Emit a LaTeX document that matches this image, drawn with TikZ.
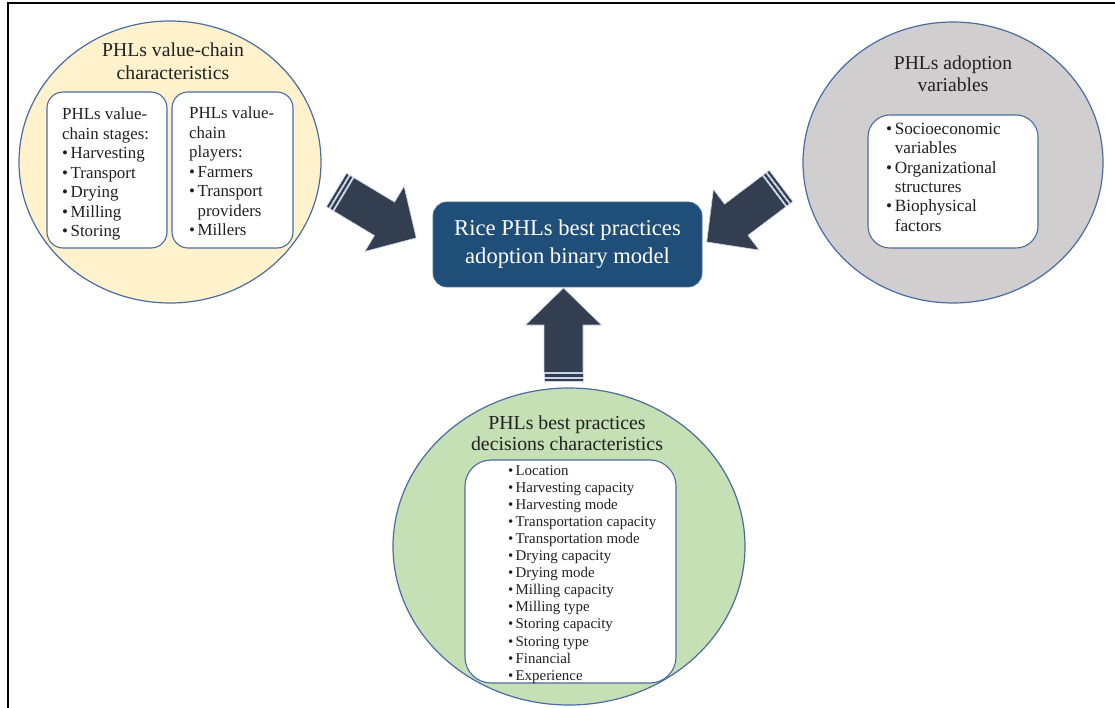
\documentclass[tikz,border=0pt]{standalone}
\usepackage{fontspec}
\setmainfont{Liberation Serif}
\usetikzlibrary{shapes.geometric}
\definecolor{yfill}{HTML}{FFF2CC}
\definecolor{gfill}{HTML}{D0CECE}
\definecolor{grfill}{HTML}{C5E0B4}
\definecolor{oline}{HTML}{4A6BA3}
\definecolor{cfill}{HTML}{1F4E79}
\definecolor{afill}{HTML}{333F50}
\definecolor{aline}{HTML}{C9D5EA}
\definecolor{tcol}{HTML}{202020}
\newcommand\myb[1]{\makebox[0.5em][l]{\textbullet}#1}
\newcommand\myc[1]{\hspace*{0.5em}#1}
\newcommand\striparrow[2]{%
  \begin{scope}[shift={(#1)},rotate=#2]
    \filldraw[arrowpiece] (0,-19.5) rectangle (3,19.5);
    \filldraw[arrowpiece] (4.2,-19.5) rectangle (7.4,19.5);
    \filldraw[arrowpiece] (8.6,-19.5) -- (56,-19.5) -- (56,-38) -- (93,0) -- (56,38) -- (56,19.5) -- (8.6,19.5) -- cycle;
  \end{scope}}
\begin{document}
\begin{tikzpicture}[x=1pt,y=-1pt,
  bigcirc/.style={ellipse,draw=oline,line width=1.2pt,inner sep=0pt},
  inbox/.style={draw=oline,line width=1.1pt,fill=white,rectangle,inner sep=0pt},
  title/.style={inner sep=0pt,align=center,text=tcol},
  list/.style={inner sep=0pt,align=left,anchor=north west,text=tcol},
  arrowpiece/.style={fill=afill,draw=aline,line width=0.6pt}]
\useasboundingbox (0,0) rectangle (1115,708);
\draw[line width=1.8pt] (8,710) -- (8,3) -- (1117,3);

% yellow circle
\node[bigcirc,fill=yfill,minimum width=302pt,minimum height=282pt] (yc) at (170,162) {};
\node[title,font=\fontsize{19.7}{23}\selectfont] (yt) at (173,61) {PHLs value-chain\\characteristics};
\draw[inbox,rounded corners=16pt] (47,92) rectangle (167,248);
\coordinate (ylb) at (107,170);
\draw[inbox,rounded corners=16pt] (172,92) rectangle (293,248);
\coordinate (yrb) at (232,170);
\node[list,font=\fontsize{16.9}{19.5}\selectfont] (yl) at (62,108) {PHLs value-\\chain stages:\\\myb{Harvesting}\\\myb{Transport}\\\myb{Drying}\\\myb{Milling}\\\myb{Storing}};
\node[list,font=\fontsize{16.9}{19.5}\selectfont] (yr) at (189,107) {PHLs value-\\chain\\players:\\\myb{Farmers}\\\myb{Transport}\\\myc{providers}\\\myb{Millers}};

% gray circle
\node[bigcirc,fill=gfill,minimum width=300pt,minimum height=281pt] (gc) at (953,162.5) {};
\node[title,font=\fontsize{19.6}{22}\selectfont] (gt) at (953,74) {PHLs adoption\\variables};
\draw[inbox,rounded corners=22pt] (868,115) rectangle (1038,248);
\node[list,font=\fontsize{17.2}{19.3}\selectfont] (gl) at (886,123) {\myb{Socioeconomic}\\\myc{variables}\\\myb{Organizational}\\\myc{structures}\\\myb{Biophysical}\\\myc{factors}};

% green circle
\node[bigcirc,fill=grfill,minimum width=352pt,minimum height=317pt] (grc) at (569,546.5) {};
\node[title,font=\fontsize{19.8}{21.5}\selectfont] (grt) at (567,433) {PHLs best practices\\decisions characteristics};
\draw[inbox,rounded corners=26pt] (465,460) rectangle (676,683);
\node[list,font=\fontsize{14.9}{17.1}\selectfont] (grl) at (508,465) {\myb{Location}\\\myb{Harvesting capacity}\\\myb{Harvesting mode}\\\myb{Transportation capacity}\\\myb{Transportation mode}\\\myb{Drying capacity}\\\myb{Drying mode}\\\myb{Milling capacity}\\\myb{Milling type}\\\myb{Storing capacity}\\\myb{Storing type}\\\myb{Financial}\\\myb{Experience}};

% central box
\node[rectangle,rounded corners=14pt,fill=cfill,draw=cfill!80!white,line width=0.8pt,minimum width=269pt,minimum height=85pt,inner sep=0pt,text=white,align=center,font=\fontsize{22.6}{28}\selectfont] (cb) at (567.5,244.5) {Rice PHLs best practices\\adoption binary model};

% block arrows
\striparrow{336.5,190}{-31}
\striparrow{781,186}{-143}
\striparrow{563.5,381}{90}
\end{tikzpicture}
\end{document}
